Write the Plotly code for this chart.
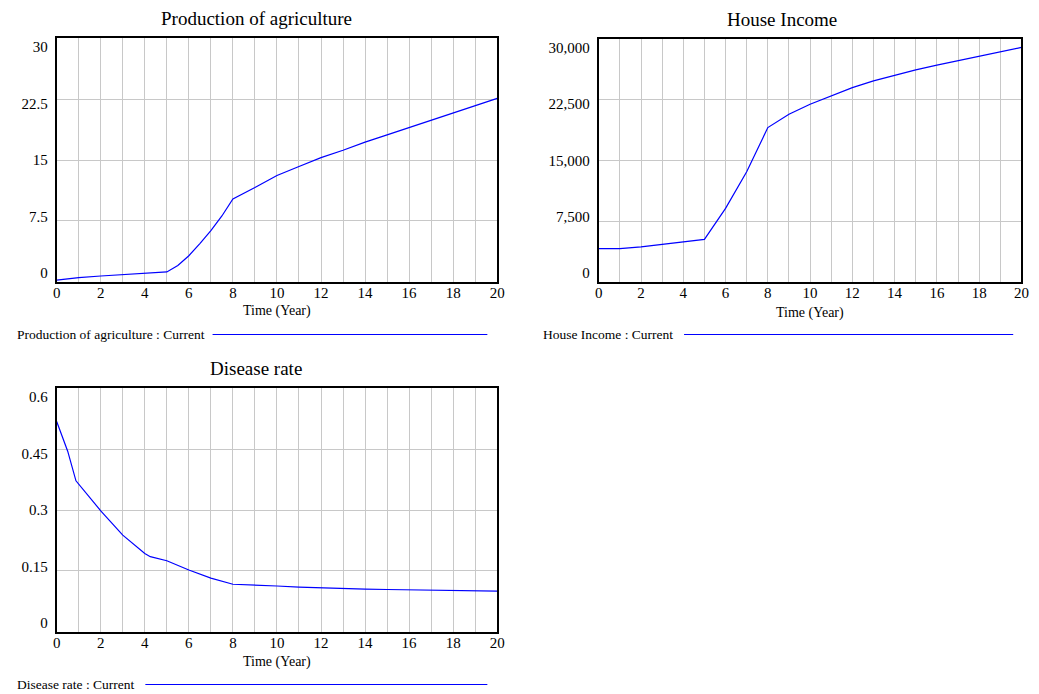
import plotly.graph_objects as go

# ---------------- data ----------------
agri_t = [0, 1, 2, 3, 4, 5, 5.5, 6, 6.5, 7, 7.5, 8, 9, 10, 11, 12, 13, 14, 15, 16, 17, 18, 19, 20]
agri_v = [0.2, 0.5, 0.7, 0.85, 1.0, 1.2, 2.0, 3.2, 4.7, 6.3, 8.1, 10.2, 11.6, 13.1, 14.2, 15.3,
          16.2, 17.2, 18.1, 19.0, 19.9, 20.8, 21.7, 22.6]

income_t = [0, 1, 2, 3, 4, 5, 6, 7, 8, 9, 10, 11, 12, 13, 14, 15, 16, 17, 18, 19, 20]
income_v = [4100, 4100, 4310, 4610, 4900, 5230, 9070, 13610, 19070, 20730, 21970, 23030, 24020,
            24850, 25560, 26220, 26800, 27370, 27950, 28490, 29000]

disease_t = [0, 0.5, 0.875, 2, 3, 4, 4.25, 5, 6, 7, 8, 9, 10, 11, 12, 13, 14, 15, 16, 17, 18, 19, 20]
disease_v = [0.518, 0.445, 0.372, 0.298, 0.238, 0.193, 0.185, 0.175, 0.152, 0.132, 0.117, 0.114,
             0.1127, 0.110, 0.108, 0.107, 0.105, 0.104, 0.103, 0.1025, 0.102, 0.101, 0.100]

titles = ["Production of agriculture", "House Income", "Disease rate"]
legend_labels = ["Production of agriculture : Current", "House Income : Current", "Disease rate : Current"]
y_ranges = [(0, 30), (0, 30000), (0, 0.6)]
y_dticks = [7.5, 7500, 0.15]
y_formats = ["", ",", ""]
x_title = "Time (Year)"

# ---------------- layout geometry (pixels) ----------------
W, H = 1039, 694
FONT = "Liberation Serif, Times New Roman, serif"
BLUE = "#0000ff"
GRID = "#c8c8c8"

# plot boxes: left, right, top, bottom in pixels
boxes = [(53.3, 499.0, 38.3, 281.7), (601.7, 1029.3, 39.3, 281.7), (53.3, 499.0, 388.3, 631.7)]
title_pos = [(255, 18), (787, 20), (255, 368)]
xtitle_pos = [(276, 311.5), (815, 312.5), (276, 662)]
leg_text_pos = [(10.7, 335), (543.3, 335), (10.7, 684.5)]
leg_line = [(211, 489, 334.5), (688, 1021, 334.5), (143, 489, 684.5)]


def px(x):
    return x / W


def py(y):
    return 1 - y / H


fig = go.Figure()
series = [(agri_t, agri_v), (income_t, income_v), (disease_t, disease_v)]

layout = dict(
    width=W, height=H, margin=dict(l=0, r=0, t=0, b=0),
    paper_bgcolor="white", plot_bgcolor="white", showlegend=False,
    font=dict(family=FONT, color="black"),
)
annotations = []
shapes = []

for i, ((t, v), box) in enumerate(zip(series, boxes)):
    n = i + 1
    xa = "x" if n == 1 else f"x{n}"
    ya = "y" if n == 1 else f"y{n}"
    fig.add_trace(go.Scatter(x=t, y=v, mode="lines", line=dict(color=BLUE, width=1.2),
                             xaxis=xa, yaxis=ya, name=legend_labels[i]))
    l, r, tp, bt = box
    lo, hi = y_ranges[i]
    layout[f"xaxis{n if n > 1 else ''}"] = dict(
        domain=[px(l), px(r)], anchor=ya, range=[0, 20], dtick=2, tick0=0,
        showgrid=True, gridcolor=GRID, gridwidth=1, zeroline=False,
        minor=dict(dtick=1, showgrid=True, gridcolor=GRID, gridwidth=1),
        showline=True, mirror=True, linecolor="black", linewidth=2,
        ticks="", ticklabelstandoff=-4,
        tickfont=dict(family=FONT, size=15, color="black"),
    )
    layout[f"yaxis{n if n > 1 else ''}"] = dict(
        domain=[py(bt), py(tp)], anchor=xa, range=[lo, hi], dtick=y_dticks[i], tick0=0,
        showgrid=True, gridcolor=GRID, gridwidth=1, zeroline=False,
        showline=True, mirror=True, linecolor="black", linewidth=2,
        showticklabels=False, ticks="",
    )
    # label axis: Vensim draws the value labels slightly inset from the frame
    span = hi - lo
    ext = span * 8.6 / 226.0
    m = n + 3
    layout[f"yaxis{m}"] = dict(
        overlaying=ya, anchor=xa, side="left", range=[lo - ext, hi + ext],
        dtick=y_dticks[i], tick0=0, tickformat=y_formats[i],
        showgrid=False, zeroline=False, showline=False, ticks="",
        ticklabelstandoff=8,
        tickfont=dict(family=FONT, size=15, color="black"),
    )
    # invisible trace to bind the label axis
    fig.add_trace(go.Scatter(x=[t[0]], y=[v[0]], mode="lines", line=dict(width=0),
                             opacity=0, xaxis=xa, yaxis=f"y{m}", hoverinfo="skip"))

    tx, ty = title_pos[i]
    annotations.append(dict(text=titles[i], x=px(tx), y=py(ty), xref="paper", yref="paper",
                            xanchor="center", yanchor="middle", showarrow=False,
                            font=dict(family=FONT, size=19, color="black")))
    ax, ay = xtitle_pos[i]
    annotations.append(dict(text=x_title, x=px(ax), y=py(ay), xref="paper", yref="paper",
                            xanchor="center", yanchor="middle", showarrow=False,
                            font=dict(family=FONT, size=14, color="black")))
    lx, ly = leg_text_pos[i]
    annotations.append(dict(text=legend_labels[i], x=px(lx), y=py(ly), xref="paper", yref="paper",
                            xanchor="left", yanchor="middle", showarrow=False,
                            font=dict(family=FONT, size=13.5, color="black")))
    x0, x1, yy = leg_line[i]
    shapes.append(dict(type="line", xref="paper", yref="paper", x0=px(x0), x1=px(x1),
                       y0=py(yy), y1=py(yy), line=dict(color=BLUE, width=1.2)))

layout["annotations"] = annotations
layout["shapes"] = shapes
fig.update_layout(**layout)

fig.write_html("out.html", config={"displayModeBar": False},
               post_script="document.body.style.margin='0';document.body.style.overflow='hidden';")
